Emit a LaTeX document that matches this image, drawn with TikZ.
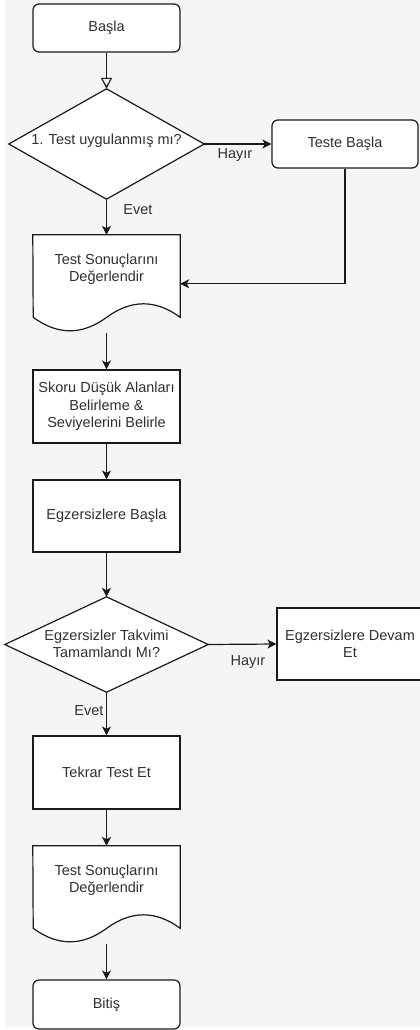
\documentclass[tikz,border=0pt]{standalone}
\usepackage{fontspec}
\setmainfont{Liberation Sans}
\usetikzlibrary{arrows.meta}
\definecolor{bgc}{HTML}{F5F5F5}
\definecolor{ln}{HTML}{1A1A1A}
\definecolor{tx}{HTML}{303030}
\begin{document}
\begin{tikzpicture}[x=1pt,y=-1pt,
  every node/.style={font=\fontsize{14.5}{17.5}\selectfont, text=tx, align=center},
  proc/.style={draw=ln, line width=1.2pt, fill=white, minimum width=147pt, inner sep=0pt},
  term/.style={proc, rounded corners=6pt, minimum height=48pt},
  ghost/.style={minimum width=147pt, inner sep=0pt},
  shapeline/.style={draw=ln, line width=1.2pt, fill=white},
  lbl/.style={inner sep=1pt},
  arr/.style={draw=ln, line width=1.2pt, -{Stealth[length=9pt,width=9pt,inset=2.5pt]}},
  openarr/.style={draw=ln, line width=1.2pt, -{Triangle[length=11pt,width=11pt,fill=white]}}
]
\useasboundingbox (0,0) rectangle (420,1030);
\clip (0,0) rectangle (420,1030);
\fill[bgc] (5,0) rectangle (420,1027);

% nodes
\node[term] (start) at (106.5,28) {Başla};

\node[ghost, minimum width=195pt, minimum height=110pt] (d1) at (106.5,144) {};
\draw[shapeline] (d1.north) -- (d1.east) -- (d1.south) -- (d1.west) -- cycle;
\node (d1t) at (106.5,141) {1. Test uygulanmış mı?};

\node[term, minimum width=146pt] (teste) at (345,144) {Teste Başla};

\node[ghost, minimum height=97.5pt] (doc1) at (106.5,283.75) {};
\draw[shapeline] (doc1.north west) -- (doc1.north east) -- ++(0,82.5)
  .. controls +(-24.5,-18) and +(24.5,-18) .. ++(-73.5,0)
  .. controls +(-24.5,18) and +(24.5,18) .. ++(-73.5,0) -- cycle;
\node (doc1t) at (106.5,269) {Test Sonuçlarını\\Değerlendir};

\node[proc, minimum height=73pt] (skor) at (106.5,406.5) {Skoru Düşük Alanları\\Belirleme \&\\Seviyelerini Belirle};
\node[proc, minimum height=72pt] (egz) at (106.5,516) {Egzersizlere Başla};

\node[ghost, minimum width=203pt, minimum height=95pt] (d2) at (106.5,644.5) {};
\draw[shapeline] (d2.north) -- (d2.east) -- (d2.south) -- (d2.west) -- cycle;
\node (d2t) at (106.5,644) {Egzersizler Takvimi\\Tamamlandı Mı?};

\node[proc, minimum width=146pt, minimum height=72pt] (devam) at (350,644) {Egzersizlere Devam\\Et};
\node[proc, minimum height=73pt] (tekrar) at (106.5,772.5) {Tekrar Test Et};

\node[ghost, minimum height=97.5pt] (doc2) at (106.5,894.75) {};
\draw[shapeline] (doc2.north west) -- (doc2.north east) -- ++(0,82.5)
  .. controls +(-24.5,-18) and +(24.5,-18) .. ++(-73.5,0)
  .. controls +(-24.5,18) and +(24.5,18) .. ++(-73.5,0) -- cycle;
\node (doc2t) at (106.5,880) {Test Sonuçlarını\\Değerlendir};

\node[term, minimum height=49pt] (bitis) at (106.5,1004.5) {Bitiş};

% connectors
\draw[openarr] (start.south) -- (d1.north);
\draw[arr] (d1.east) -- (teste.west);
\draw[arr] (d1.south) -- (doc1.north);
\draw[arr] (teste.south) |- (doc1.east);
\draw[arr] (doc1.south) -- (skor.north);
\draw[arr] (skor.south) -- (egz.north);
\draw[arr] (egz.south) -- (d2.north);
\draw[arr] (d2.east) -- (devam.west);
\draw[arr] (d2.south) -- (tekrar.north);
\draw[arr] (tekrar.south) -- (doc2.north);
\draw[arr] (doc2.south) -- (bitis.north);

% labels
\node[lbl] (l1) at (235,155) {Hayır};
\node[lbl] (l2) at (138,210) {Evet};
\node[lbl] (l3) at (248,662) {Hayır};
\node[lbl] (l4) at (89,711) {Evet};
\end{tikzpicture}
\end{document}
